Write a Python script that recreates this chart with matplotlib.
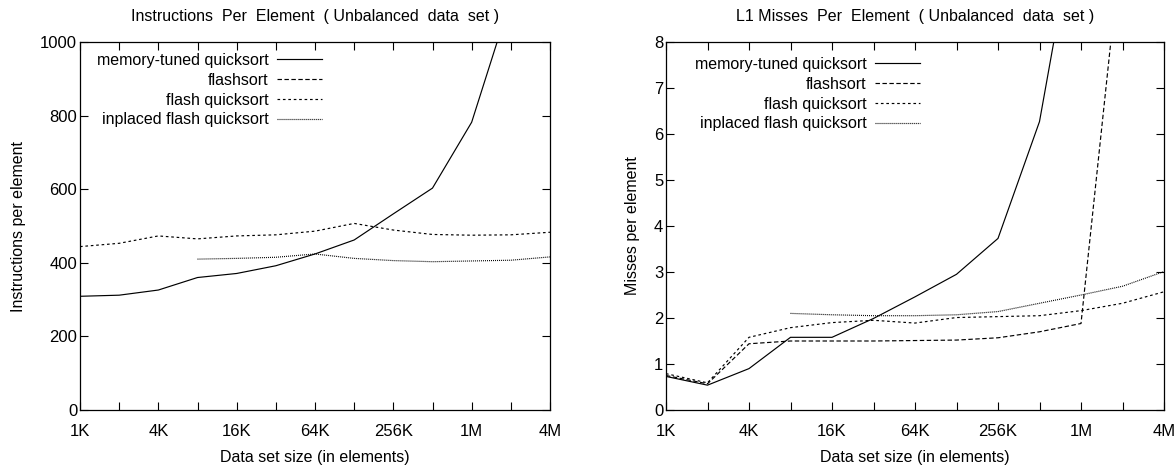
import numpy as np
import matplotlib
matplotlib.use('Agg')
import matplotlib.pyplot as plt

# data set sizes in K elements (1K .. 4M, one point per doubling)
size_k = [1, 2, 4, 8, 16, 32, 64, 128, 256, 512, 1024, 2048, 4096]
size_labels = ['1K', '', '4K', '', '16K', '', '64K', '', '256K', '', '1M', '', '4M']

nan = np.nan

# instructions per element (left panel)
instr_mtq = [309, 312, 326, 360, 371, 392, 424, 462, 533, 603, 782, 1117, nan]
instr_flashsort = [nan] * 13          # off the scale, only in the legend
instr_fqs = [444, 453, 473, 465, 473, 476, 486, 507, 489, 477, 475, 476, 483]
instr_ifqs = [nan, nan, nan, 410, 412, 415, 424, 412, 406, 403, 405, 407, 416]

# L1 misses per element (right panel)
l1_mtq = [0.73, 0.54, 0.90, 1.58, 1.58, 1.99, 2.46, 2.95, 3.73, 6.27, 11.3, nan, nan]
l1_flashsort = [0.75, 0.57, 1.44, 1.50, 1.50, 1.50, 1.51, 1.52, 1.57, 1.70, 1.88, 10.4, nan]
l1_fqs = [0.79, 0.59, 1.58, 1.79, 1.90, 1.95, 1.89, 2.01, 2.03, 2.05, 2.16, 2.32, 2.57]
l1_ifqs = [nan, nan, nan, 2.10, 2.07, 2.05, 2.05, 2.07, 2.14, 2.32, 2.50, 2.69, 3.01]

names = ['memory-tuned quicksort', 'flashsort', 'flash quicksort',
         'inplaced flash quicksort']

plt.rcParams['font.family'] = ['Liberation Sans', 'DejaVu Sans']
plt.rcParams['font.size'] = 11.5
plt.rcParams['lines.scale_dashes'] = False

styles = [dict(linestyle='-'),
          dict(linestyle=(0, (3.2, 1.8))),
          dict(linestyle=(0, (1.9, 2.0))),
          dict(linestyle=(0, (0.7, 0.75)))]

fig = plt.figure(figsize=(11.76, 4.68), dpi=100)
ax1 = fig.add_axes([80 / 1176, 58 / 468, 470 / 1176, 368 / 468])
ax2 = fig.add_axes([666 / 1176, 58 / 468, 498 / 1176, 368 / 468])


def draw(ax, series, ymax, yticks, title, ylabel, legend_anchor):
    for vals, name, st in zip(series, names, styles):
        ax.plot(size_k, vals, color='black', lw=0.85, label=name, **st)
    ax.set_xscale('log', base=2)
    ax.set_xlim(1, 4096)
    ax.set_ylim(0, ymax)
    ax.set_xticks(size_k)
    ax.set_xticklabels(size_labels)
    ax.minorticks_off()
    ax.set_yticks(yticks)
    ax.tick_params(direction='in', length=6, width=0.8, top=True, right=True,
                   labelsize=12)
    ax.tick_params(axis='x', pad=10)
    ax.tick_params(axis='y', pad=2)
    for sp in ax.spines.values():
        sp.set_linewidth(0.9)
    ax.set_title(title, fontsize=11.5, pad=15)
    ax.set_xlabel('Data set size (in elements)', labelpad=8)
    ax.set_ylabel(ylabel, labelpad=10)
    ax.legend(loc='upper right', bbox_to_anchor=legend_anchor,
              bbox_transform=fig.transFigure, frameon=False,
              markerfirst=False, handlelength=2.8, handletextpad=0.55,
              labelspacing=0.3, borderpad=0, borderaxespad=0)


draw(ax1, [instr_mtq, instr_flashsort, instr_fqs, instr_ifqs], 1000,
     [0, 200, 400, 600, 800, 1000],
     'Instructions  Per  Element  ( Unbalanced  data  set )',
     'Instructions per element', (322 / 1176, 1 - 53 / 468))
draw(ax2, [l1_mtq, l1_flashsort, l1_fqs, l1_ifqs], 8, range(0, 9),
     'L1 Misses  Per  Element  ( Unbalanced  data  set )',
     'Misses per element', (920 / 1176, 1 - 57 / 468))

fig.savefig('out.png', dpi=100)
